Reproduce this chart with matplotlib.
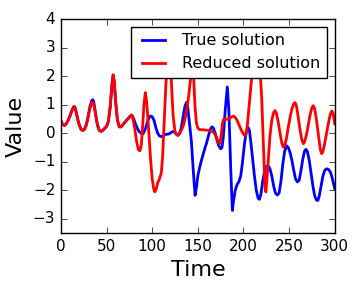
import matplotlib
matplotlib.use("Agg")
import matplotlib.pyplot as plt

t_true = [0, 2, 4, 6, 8, 10, 12, 14, 15, 16, 18, 20, 22, 24, 26, 28, 30, 32, 34, 35, 36, 38, 40, 42, 44, 46, 48, 50,
          52, 54, 56, 57.3, 58.5, 60, 62, 64, 66, 68, 70, 72, 74, 76, 78, 80, 82, 84, 86, 88, 90, 92, 94, 96, 98, 100,
          102, 104, 106, 108, 110, 112, 114, 116, 118, 120, 122, 124, 126, 128, 130, 132, 134, 136, 137.7, 139, 141,
          143, 145, 147, 148.5, 150, 152, 154, 156, 158, 160, 162, 164, 165.5, 167, 169, 171, 173, 175, 176.5, 178,
          180, 182.3, 184, 186, 187.8, 189, 191, 193, 195, 197, 199, 201, 203, 205, 206.5, 208, 210, 212, 214, 216,
          217.5, 219, 221, 223, 225, 227, 229, 231, 233, 235, 237, 239, 241, 243, 245, 247, 249, 251, 253, 255, 257,
          259, 261, 263, 265, 267, 268.5, 270, 272, 274, 276, 278, 280, 281.5, 283, 285, 287, 289, 291, 293, 295, 297,
          299, 300]
y_true = [0.44, 0.30, 0.27, 0.33, 0.45, 0.6, 0.78, 0.92, 0.93, 0.85, 0.55, 0.3, 0.14, 0.09, 0.14, 0.3, 0.6, 0.95,
          1.15, 1.17, 1.1, 0.7, 0.3, 0.1, 0.06, 0.1, 0.17, 0.23,
          0.4, 0.9, 1.7, 2.04, 1.8, 1.1, 0.45, 0.22, 0.22, 0.3, 0.38, 0.45, 0.52, 0.6, 0.62, 0.48, 0.3, 0.15, 0.05,
          -0.01, -0.02, 0.1, 0.3, 0.5, 0.6, 0.58,
          0.45, 0.2, 0.0, -0.1, -0.12, -0.1, -0.05, -0.04, -0.03, 0.0, 0.05, 0.05, -0.02, -0.08, -0.02, 0.2, 0.6,
          0.95, 1.08, 0.9, 0.3,
          -0.3, -1.3, -2.18, -1.9, -1.5, -1.2, -0.95, -0.72, -0.5, -0.3, -0.05, 0.15, 0.22, 0.18, 0.0, -0.25, -0.45,
          -0.55, -0.5, -0.1,
          0.8, 1.62, 0.8, -1.2, -2.71, -2.4, -2.0, -1.8, -1.7, -1.5, -1.0, -0.4, 0.05, 0.2, 0.1, -0.3, -0.9, -1.5,
          -2.0, -2.28,
          -2.32, -2.15, -1.7, -1.35, -1.17, -1.14, -1.25, -1.5, -1.85, -2.1, -2.17, -2.1, -1.7, -1.1, -0.65, -0.44,
          -0.5, -0.68, -0.95, -1.3, -1.6,
          -1.71, -1.65, -1.3, -0.9, -0.62, -0.57, -0.65, -0.95, -1.4, -1.85, -2.2, -2.35, -2.36, -2.2, -1.85, -1.5,
          -1.3, -1.25, -1.27, -1.35, -1.55,
          -1.82, -1.95]

t_red = [0, 2, 4, 6, 8, 10, 12, 14, 15, 16, 18, 20, 22, 24, 26, 28, 30, 32, 34, 35, 36, 38, 40, 42, 44, 46, 48, 50,
         52, 54, 56, 57.3, 58.5, 60, 62, 64, 66, 68, 70, 72, 74, 76, 77.5, 79, 81, 83, 85, 86.5, 88, 89.5, 91, 92.5,
         94, 96, 98, 100, 102, 103, 104.5, 106, 108, 110, 111.5, 113, 115, 117, 118.5, 120, 121.5, 123, 125, 127,
         128.5, 130, 132, 134, 136, 138, 140, 142, 144, 145.5, 147, 148.5, 150, 152, 155, 158, 161, 164, 167, 169,
         171, 173, 174, 175.5, 177, 178.5, 181, 184, 187, 189, 191, 193, 195, 197, 199, 201, 202.5, 204, 206, 208,
         210, 212, 214, 216, 218, 220, 222, 223.5, 224.5, 225.5, 227, 229, 231, 233, 234.5, 236, 238, 240, 242,
         243.6, 245, 247, 249, 251, 253, 255, 256.5, 258, 260, 262, 264, 265.6, 267, 269, 271, 273, 275, 276.5,
         278, 280, 282, 284, 285.5, 287, 289, 291, 293, 295, 296.7, 298, 300]
y_red = [0.44, 0.30, 0.27, 0.33, 0.45, 0.6, 0.78, 0.92, 0.93, 0.85, 0.55, 0.3, 0.14, 0.09, 0.14, 0.3, 0.58, 0.9,
         1.06, 1.08, 1.0, 0.65, 0.3, 0.1, 0.06, 0.1, 0.17, 0.23,
         0.4, 0.9, 1.7, 2.04, 1.8, 1.1, 0.45, 0.22, 0.22, 0.3, 0.38, 0.45, 0.52, 0.6, 0.64, 0.5, 0.15, -0.3, -0.58,
         -0.62, -0.45, 0.2, 1.0, 1.42,
         1.1, 0.2, -0.8, -1.6, -2.0, -2.06, -1.95, -1.75, -1.6, -1.4, -0.8, 0.3, 1.7, 2.7, 2.9, 2.5, 1.5, 0.6, 0.05,
         -0.06,
         -0.07, 0.0, 0.1, 0.25, 0.5, 0.85, 1.3, 1.9, 2.3, 1.9, 0.9, 0.35, 0.18, 0.12, 0.12, 0.11, 0.1, 0.08, 0.04,
         -0.05,
         -0.2, -0.35, -0.37, -0.1, 0.35, 0.5, 0.48, 0.5, 0.57, 0.6, 0.55, 0.45, 0.3, 0.15, 0.02, -0.07, -0.08, 0.2,
         0.9, 1.6,
         2.3, 2.8, 3.0, 2.9, 2.3, 1.2, -0.6, -1.9, -2.06, -1.7, -1.0, -0.1, 0.45, 0.72, 0.79, 0.7, 0.4, 0.0, -0.35,
         -0.49, -0.45, -0.2, 0.2, 0.55, 0.85, 1.03, 1.07, 0.95, 0.55, 0.1, -0.25, -0.37, -0.3, -0.05, 0.3, 0.65,
         0.9, 0.96,
         0.85, 0.45, -0.05, -0.55, -0.72, -0.65, -0.35, 0.0, 0.35, 0.65, 0.78, 0.72, 0.33]

plt.style.use("classic")
fig = plt.figure(figsize=(3.6, 2.88), dpi=100)
ax = fig.add_axes([0.169, 0.191, 0.761, 0.743])
ax.plot(t_true, y_true, color="blue", lw=2, label="True solution")
ax.plot(t_red, y_red, color="red", lw=2, label="Reduced solution")
ax.set_xlim(0, 300)
ax.set_ylim(-3.5, 4)
ax.set_xticks([0, 50, 100, 150, 200, 250, 300])
ax.set_yticks([-3, -2, -1, 0, 1, 2, 3, 4])
ax.tick_params(labelsize=11)
ax.set_xlabel("Time", fontsize=16)
ax.set_ylabel("Value", fontsize=16)
ax.legend(loc="upper right", fontsize=11.5)
fig.savefig("out.png", dpi=100)
